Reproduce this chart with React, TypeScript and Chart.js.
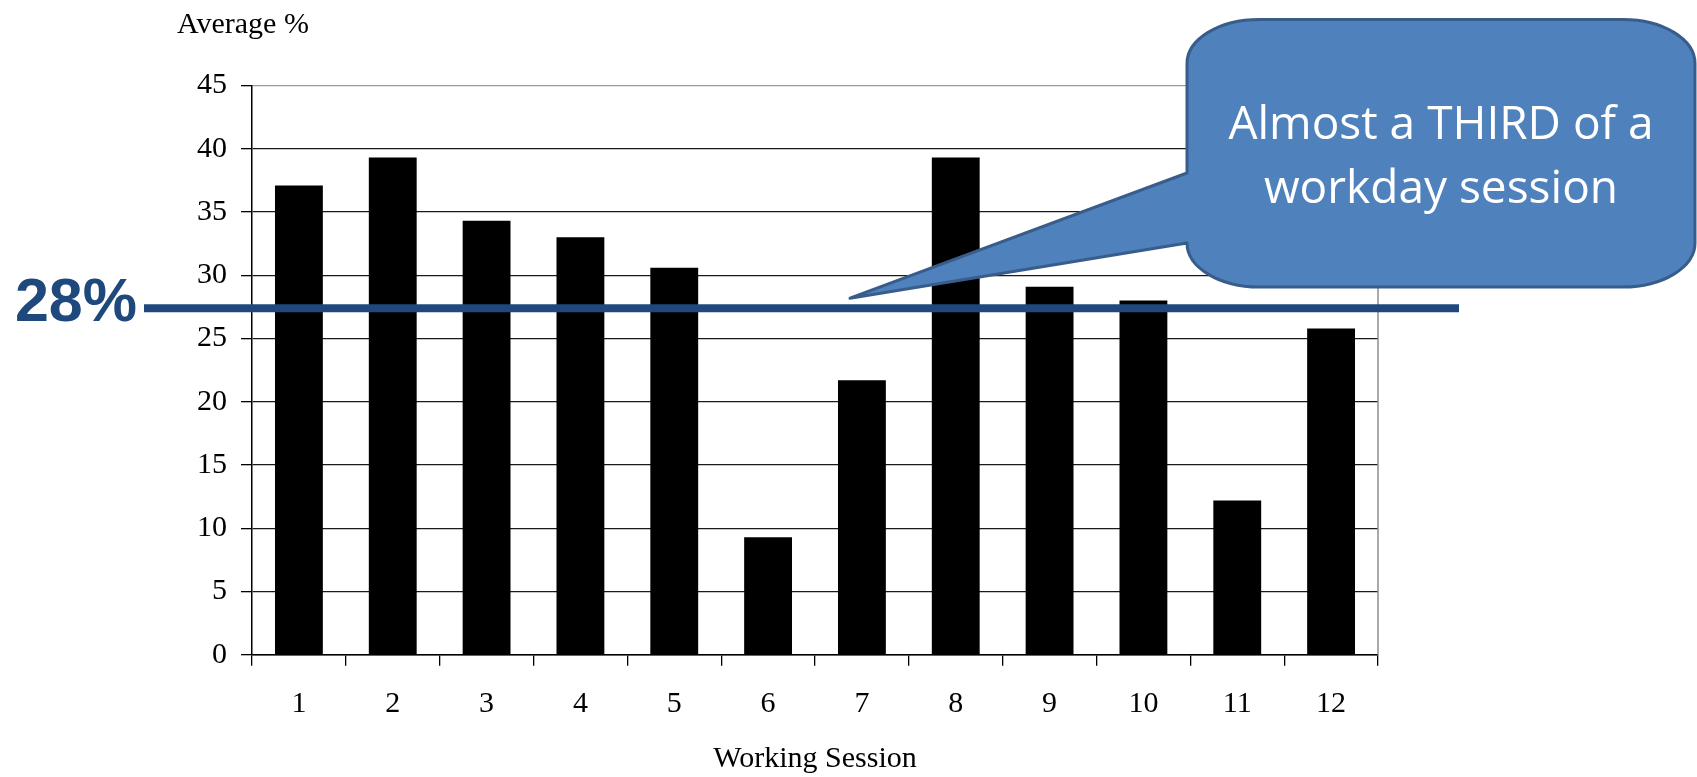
import React, { useEffect, useRef } from "react";
import { Chart, registerables } from "chart.js";

Chart.register(...registerables);

// ---- Data ----
const sessions = ["1", "2", "3", "4", "5", "6", "7", "8", "9", "10", "11", "12"];
const averagePercent = [37.1, 39.3, 34.3, 33.0, 30.6, 9.3, 21.7, 39.3, 29.1, 28.0, 12.2, 25.8];
const yMin = 0;
const yMax = 45;
const yStep = 5;
const referenceValue = 27.4;
const referenceLabel = "28%";
const calloutLines = ["Almost a THIRD of a", "workday session"];
const yAxisTitle = "Average %";
const xAxisTitle = "Working Session";

// ---- Styling ----
const W = 1697;
const H = 777;
const SERIF = "'Liberation Serif', 'Times New Roman', serif";
const SANS = "'Liberation Sans', Arial, sans-serif";
const CALLOUT_FONT = "'Open Sans', 'Noto Sans', sans-serif";
const DARK_BLUE = "#1F497D";

const overlayPlugin = {
  id: "overlay",
  beforeDatasetsDraw(chart: any) {
    const { ctx, chartArea: a } = chart;
    ctx.save();
    ctx.strokeStyle = "#8c8c8c";
    ctx.lineWidth = 1.5;
    ctx.beginPath();
    ctx.moveTo(a.right, a.top);
    ctx.lineTo(a.right, a.bottom);
    ctx.stroke();
    ctx.restore();
  },
  afterDraw(chart: any) {
    const { ctx, chartArea: a, scales } = chart;
    ctx.save();

    // y axis title (horizontal, above axis)
    ctx.fillStyle = "#000";
    ctx.font = `30px ${SERIF}`;
    ctx.textAlign = "left";
    ctx.textBaseline = "alphabetic";
    ctx.fillText(yAxisTitle, a.left - 75, 33);

    // reference line
    const ly = scales.y.getPixelForValue(referenceValue);
    ctx.strokeStyle = DARK_BLUE;
    ctx.lineWidth = 8;
    ctx.beginPath();
    ctx.moveTo(a.left - 108, ly);
    ctx.lineTo(a.right + 81, ly);
    ctx.stroke();

    // label 28%
    ctx.fillStyle = DARK_BLUE;
    ctx.font = `bold 61px ${SANS}`;
    ctx.textAlign = "right";
    ctx.textBaseline = "alphabetic";
    ctx.fillText(referenceLabel, a.left - 115, ly + 13);

    // callout
    const x0 = 1187, x1 = 1695, y0 = 19.5, y1 = 287;
    const rx = 72, ry = 44;
    const py0 = 173, py1 = 243;
    const tx = 850, ty = ly - 10;
    ctx.beginPath();
    ctx.moveTo(x0 + rx, y0);
    ctx.lineTo(x1 - rx, y0);
    ctx.ellipse(x1 - rx, y0 + ry, rx, ry, 0, -Math.PI / 2, 0);
    ctx.lineTo(x1, y1 - ry);
    ctx.ellipse(x1 - rx, y1 - ry, rx, ry, 0, 0, Math.PI / 2);
    ctx.lineTo(x0 + rx, y1);
    ctx.ellipse(x0 + rx, y1 - ry, rx, ry, 0, Math.PI / 2, Math.PI);
    ctx.lineTo(x0, py1);
    ctx.lineTo(tx, ty);
    ctx.lineTo(x0, py0);
    ctx.lineTo(x0, y0 + ry);
    ctx.ellipse(x0 + rx, y0 + ry, rx, ry, 0, Math.PI, Math.PI * 1.5);
    ctx.closePath();
    ctx.fillStyle = "#4F81BD";
    ctx.fill();
    ctx.strokeStyle = "#385D8A";
    ctx.lineWidth = 3;
    ctx.lineJoin = "round";
    ctx.stroke();

    ctx.fillStyle = "#ffffff";
    ctx.font = `46px ${CALLOUT_FONT}`;
    ctx.textAlign = "center";
    ctx.textBaseline = "alphabetic";
    const cx = (x0 + x1) / 2;
    ctx.fillText(calloutLines[0], cx, 139);
    ctx.fillText(calloutLines[1], cx, 203);

    ctx.restore();
  },
};

export default function App() {
  const canvasRef = useRef<HTMLCanvasElement | null>(null);

  useEffect(() => {
    const canvas = canvasRef.current;
    if (!canvas) return;
    const chart = new Chart(canvas, {
      type: "bar",
      data: {
        labels: sessions,
        datasets: [
          {
            data: averagePercent,
            backgroundColor: "#000000",
            borderWidth: 0,
            barPercentage: 0.51,
            categoryPercentage: 1,
          },
        ],
      },
      options: {
        responsive: false,
        animation: false,
        devicePixelRatio: 1,
        layout: { padding: { top: 85.5, left: 0, right: 319, bottom: 0 } },
        plugins: {
          legend: { display: false },
          tooltip: { enabled: false },
          title: { display: false },
        },
        scales: {
          x: {
            grid: {
              offset: true,
              drawOnChartArea: false,
              drawTicks: true,
              tickLength: 11,
              color: "#000",
              tickColor: "#000",
              lineWidth: 1.3,
            },
            border: { color: "#000", width: 1.5 },
            ticks: {
              color: "#000",
              font: { family: SERIF, size: 30 },
              padding: 20,
              maxRotation: 0,
              autoSkip: false,
            },
            title: {
              display: true,
              text: xAxisTitle,
              color: "#000",
              font: { family: SERIF, size: 30 },
              padding: { top: 0, bottom: 0 },
            },
            afterFit: (s: any) => {
              s.height = H - 654.8;
            },
          },
          y: {
            min: yMin,
            max: yMax,
            ticks: {
              stepSize: yStep,
              color: "#000",
              font: { family: SERIF, size: 30 },
              padding: 14,
            },
            grid: {
              color: (c: any) => (c.tick && c.tick.value === yMax ? "#9a9a9a" : "#1a1a1a"),
              tickColor: "#000",
              tickLength: 11,
              lineWidth: 1.3,
            },
            border: { color: "#000", width: 1.5 },
            afterFit: (s: any) => {
              s.width = 252;
            },
          },
        },
      } as any,
      plugins: [overlayPlugin],
    });
    return () => chart.destroy();
  }, []);

  return (
    <div style={{ position: "fixed", left: 0, top: 0, width: W, height: H, background: "#fff" }}>
      <canvas ref={canvasRef} width={W} height={H} style={{ display: "block" }} />
    </div>
  );
}
